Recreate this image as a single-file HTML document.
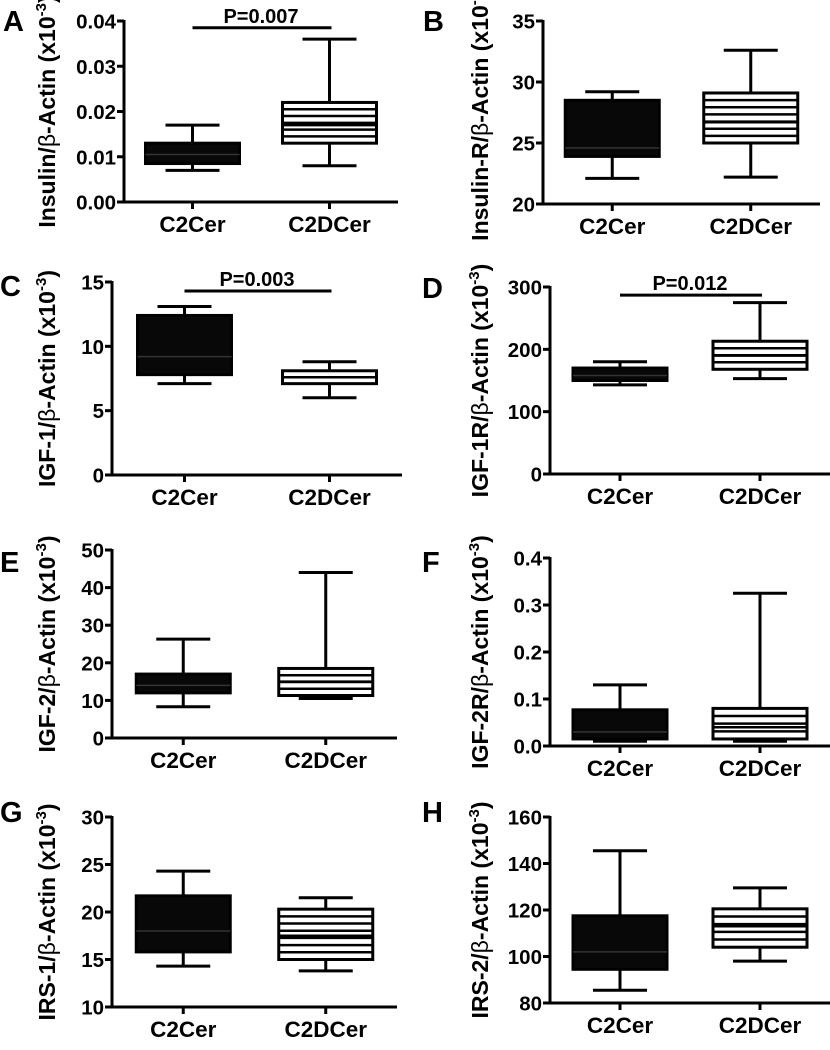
<!DOCTYPE html>
<html><head><meta charset="utf-8"><style>
html,body{margin:0;padding:0;background:#fff;width:830px;height:1050px;overflow:hidden}
svg{display:block}
text{font-family:"Liberation Sans",Arial,sans-serif;font-weight:bold;fill:#000}
</style></head><body>
<svg id="fig" width="830" height="1050" viewBox="0 0 830 1050"></svg>
<script>
const categories=["C2Cer","C2DCer"];
const panelLetters=["A","B","C","D","E","F","G","H"];
const yTitles=["Insulin/","Insulin-R/","IGF-1/","IGF-1R/","IGF-2/","IGF-2R/","IRS-1/","IRS-2/"];
const yMin=[0,20,0,0,0,0,10,80];
const yMax=[0.04,35,15,300,50,0.4,30,160];
const yTicks=[[0,0.01,0.02,0.03,0.04],[20,25,30,35],[0,5,10,15],[0,100,200,300],[0,10,20,30,40,50],[0,0.1,0.2,0.3,0.4],[10,15,20,25,30],[80,100,120,140,160]];
const tickLabels=[["0.00","0.01","0.02","0.03","0.04"],["20","25","30","35"],["0","5","10","15"],["0","100","200","300"],["0","10","20","30","40","50"],["0.0","0.1","0.2","0.3","0.4"],["10","15","20","25","30"],["80","100","120","140","160"]];
// [min,q1,median,q3,max]
const c2cer=[[0.007,0.0085,0.0105,0.013,0.017],[22.1,23.9,24.6,28.5,29.2],[7.1,7.8,9.2,12.4,13.1],[143,150,158,170,180],[8.3,12,14,17,26.3],[0.01,0.015,0.03,0.077,0.13],[14.3,15.8,18,21.7,24.3],[85.5,94.5,102,117.5,145.5]];
const c2dcer=[[0.008,0.013,0.017,0.022,0.036],[22.2,25,26.7,29.1,32.6],[6.0,7.1,7.6,8.1,8.8],[153,168,190,213,275],[10.5,11.3,15,18.5,44],[0.01,0.015,0.04,0.08,0.325],[13.8,15,17.5,20.3,21.5],[98,104,113,120.5,129.5]];
const pLabels=["P=0.007",null,"P=0.003","P=0.012",null,null,null,null];
const pValues=[0.0385,null,14.3,287,null,null,null,null];

const layout=[
 {ax:124,top:21,bot:202,right:398,lx:3,ly:31},
 {ax:543,top:21,bot:204,right:820,lx:423,ly:31},
 {ax:112,top:282,bot:475,right:402,lx:0,ly:296},
 {ax:550,top:287,bot:474,right:830,lx:422,ly:298},
 {ax:112,top:550,bot:738,right:397,lx:0,ly:572},
 {ax:550,top:558,bot:746,right:830,lx:422,ly:572},
 {ax:112,top:817,bot:1007,right:397,lx:0,ly:822},
 {ax:550,top:817,bot:1003,right:830,lx:422,ly:822}
];
const NS="http://www.w3.org/2000/svg";
const svg=document.getElementById('fig');
function mk(tag,attrs,parent){const e=document.createElementNS(NS,tag);for(const k in attrs)e.setAttribute(k,attrs[k]);(parent||svg).appendChild(e);return e;}

for(let p=0;p<8;p++){
 const L=layout[p];
 const g=mk('g',{});
 
 
 const yS=v=>L.bot-(v-yMin[p])/(yMax[p]-yMin[p])*(L.bot-L.top);
 const w=L.right-L.ax;
 const xS=i=>L.ax+w*(i===0?0.25:0.75);
 const pl=mk('text',{x:L.lx,y:L.ly,'font-size':29},g);pl.textContent=panelLetters[p];
 
 
 const ya=mk('line',{x1:L.ax,y1:L.top-1,x2:L.ax,y2:L.bot+1.5,stroke:'#000','stroke-width':3},g);
 
 
 const xa=mk('line',{x1:L.ax-1.5,y1:L.bot,x2:L.right,y2:L.bot,stroke:'#000','stroke-width':3},g);
 
 
 yTicks[p].forEach((t,i)=>{
  const y=yS(t);
  mk('line',{x1:L.ax-7,y1:y,x2:L.ax,y2:y,stroke:'#000','stroke-width':3},g);
  const tl=mk('text',{x:L.ax-8,y:y+7.5,'font-size':20.5,'text-anchor':'end'},g);tl.textContent=tickLabels[p][i];
  
  
 });
 const cy=(L.top+L.bot)/2, tx=(p%2===0)?47:480;
 const yt=mk('text',{x:tx,y:cy,'font-size':23,'text-anchor':'middle',transform:`rotate(-90 ${tx} ${cy})`,dy:8},g);
 
 
 yt.appendChild(document.createTextNode(yTitles[p]));
 const b=mk('tspan',{'font-weight':'normal'},yt);b.textContent='β';
 yt.appendChild(document.createTextNode('-Actin (x10'));
 const s=mk('tspan',{'font-size':15,dy:-9},yt);s.textContent='-3';
 const cl=mk('tspan',{dy:9},yt);cl.textContent=')';
 [c2cer[p],c2dcer[p]].forEach((d,i)=>{
  const x=xS(i);
  mk('line',{x1:x,y1:L.bot,x2:x,y2:L.bot+7,stroke:'#000','stroke-width':3},g);
  const cl2=mk('text',{x:x,y:L.bot+30,'font-size':22.5,'text-anchor':'middle'},g);cl2.textContent=categories[i];
  
  
  const bg=mk('g',{},g);
  
  
  const hw=47,cw=27;
  mk('line',{x1:x,y1:yS(d[0]),x2:x,y2:yS(d[4]),stroke:'#000','stroke-width':3},bg);
  mk('line',{x1:x-cw,y1:yS(d[0]),x2:x+cw,y2:yS(d[0]),stroke:'#000','stroke-width':3},bg);
  mk('line',{x1:x-cw,y1:yS(d[4]),x2:x+cw,y2:yS(d[4]),stroke:'#000','stroke-width':3},bg);
  const y3=yS(d[3]),y1=yS(d[1]);
  if(i===0){
   mk('rect',{x:x-hw,y:y3,width:2*hw,height:y1-y3,fill:'#080808',stroke:'#000','stroke-width':3},bg);
   mk('line',{x1:x-hw,y1:yS(d[2]),x2:x+hw,y2:yS(d[2]),stroke:'#333','stroke-width':1.5},bg);
  }else{
   mk('rect',{x:x-hw,y:y3,width:2*hw,height:y1-y3,fill:'#fff',stroke:'#000','stroke-width':3},bg);
   const n=Math.max(1,Math.round((y1-y3)/7));
   for(let k=1;k<n;k++){const yy=y3+(y1-y3)*k/n;mk('line',{x1:x-hw,y1:yy,x2:x+hw,y2:yy,stroke:'#000','stroke-width':2.5},bg);}
   mk('line',{x1:x-hw,y1:yS(d[2]),x2:x+hw,y2:yS(d[2]),stroke:'#000','stroke-width':2.5},bg);
  }
 });
 if(pLabels[p]){
  const y=yS(pValues[p]);
  const pl2=mk('line',{x1:xS(0),y1:y,x2:xS(1)+2,y2:y,stroke:'#000','stroke-width':3},g);
  
  
  const pt=mk('text',{x:(xS(0)+xS(1))/2,y:y-5,'font-size':20,'text-anchor':'middle'},g);pt.textContent=pLabels[p];
  
  
 }
}
</script>
</body></html>
